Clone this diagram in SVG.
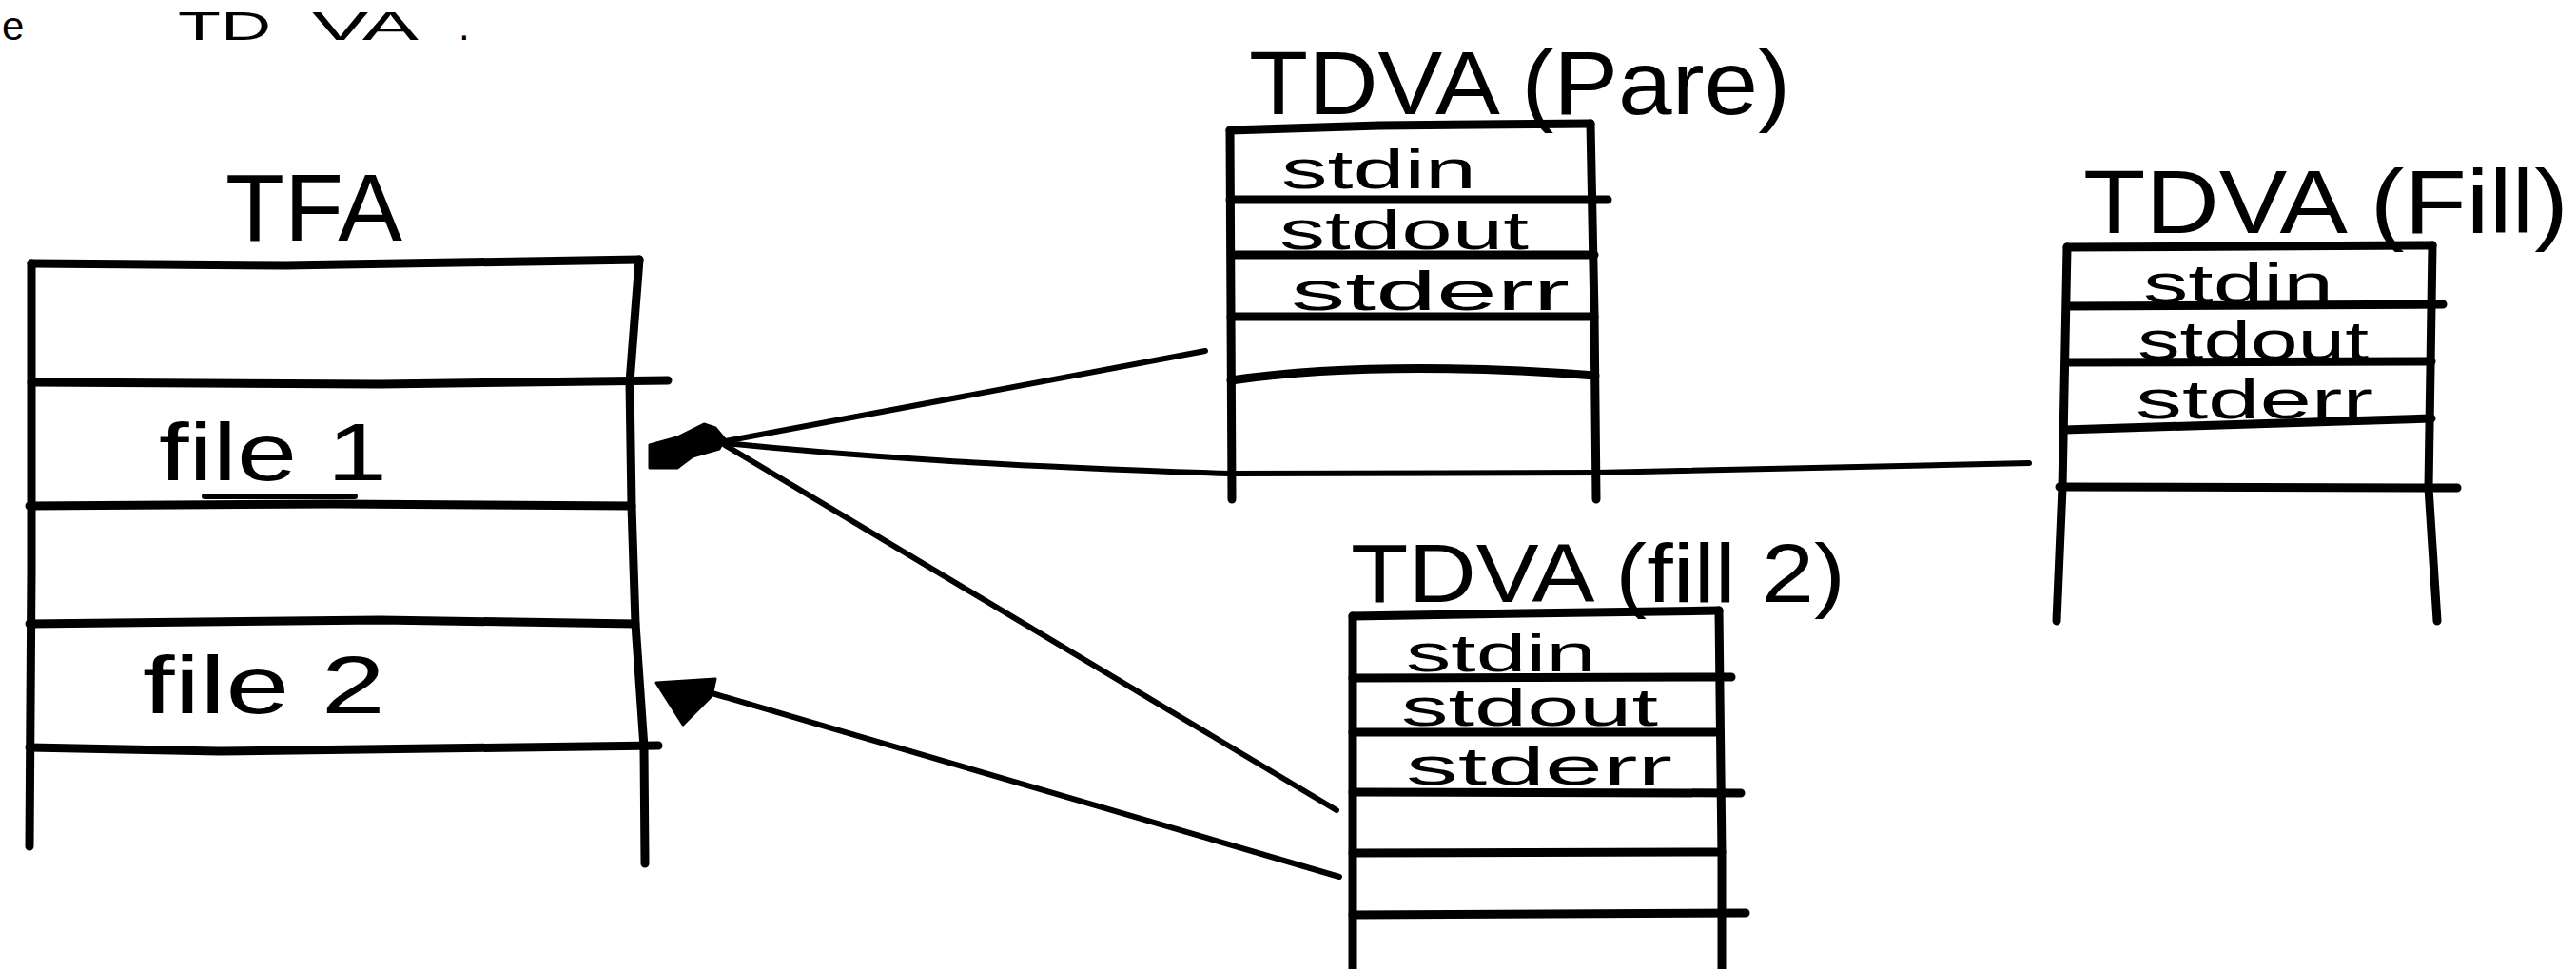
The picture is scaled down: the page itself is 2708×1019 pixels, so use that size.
<svg xmlns="http://www.w3.org/2000/svg" width="2708" height="1019" viewBox="0 0 2708 1019">
<style>
.ln{fill:none;stroke:#000;stroke-width:9;stroke-linecap:round;stroke-linejoin:round}
.cn{fill:none;stroke:#000;stroke-width:6;stroke-linecap:round;stroke-linejoin:round}
.ah{fill:#000;stroke:#000;stroke-width:3;stroke-linejoin:round}
.t{font-family:"Liberation Sans",Arial,sans-serif;fill:#000}
.ti{font-size:95px}
.sd{font-size:58px}
.hd{font-size:42px}
</style>
<rect width="2708" height="1019" fill="#fff"/>
<g id="header">
<text class="t hd" x="2" y="42">e</text>
<text class="t hd" x="187" y="42" textLength="98" lengthAdjust="spacingAndGlyphs">TD</text>
<text class="t hd" x="328" y="42" textLength="112" lengthAdjust="spacingAndGlyphs">VA</text>
<text class="t hd" x="482" y="42">.</text>
</g>
<g id="tfa">
<text class="t" x="237" y="253" font-size="100" textLength="186" lengthAdjust="spacingAndGlyphs">TFA</text>
<path class="ln" d="M33,277 L300,279 L672,273"/>
<path class="ln" d="M33,277 L33,600 L31,890"/>
<path class="ln" d="M672,273 L662,402 L664,532 L668,656 L677,786 L678,908"/>
<path class="ln" d="M33,402 L400,404 L702,400"/>
<path class="ln" d="M31,532 L350,530 L664,532"/>
<path class="ln" d="M31,656 L400,652 L668,656"/>
<path class="ln" d="M31,786 L230,790 L692,784"/>
<text class="t" x="167" y="505" font-size="85" textLength="240" lengthAdjust="spacingAndGlyphs">file 1</text>
<path class="ln" d="M215,522 L373,522" style="stroke-width:6"/>
<text class="t" x="150" y="750" font-size="85" textLength="255" lengthAdjust="spacingAndGlyphs">file 2</text>
</g>
<g id="tdva-pare">
<text class="t ti" x="1313" y="120" textLength="569" lengthAdjust="spacingAndGlyphs">TDVA (Pare)</text>
<path class="ln" d="M1293,137 L1450,132 L1672,130"/>
<path class="ln" d="M1293,137 L1295,525"/>
<path class="ln" d="M1672,130 L1676,330 L1678,525"/>
<path class="ln" d="M1293,210 L1690,210"/>
<path class="ln" d="M1294,268 L1676,268"/>
<path class="ln" d="M1294,333 L1676,333"/>
<path class="ln" d="M1294,400 Q1450,378 1677,395"/>
<text class="t sd" x="1347" y="198" textLength="205" lengthAdjust="spacingAndGlyphs">stdin</text>
<text class="t sd" x="1345" y="262" textLength="262" lengthAdjust="spacingAndGlyphs">stdout</text>
<text class="t sd" x="1357" y="326" textLength="293" lengthAdjust="spacingAndGlyphs">stderr</text>
</g>
<g id="tdva-fill">
<text class="t ti" x="2190" y="245" textLength="510" lengthAdjust="spacingAndGlyphs">TDVA (Fill)</text>
<path class="ln" d="M2173,260 L2557,258"/>
<path class="ln" d="M2173,260 L2168,513 L2162,653"/>
<path class="ln" d="M2557,258 L2553,513 L2562,653"/>
<path class="ln" d="M2173,322 L2568,320"/>
<path class="ln" d="M2172,381 L2556,380"/>
<path class="ln" d="M2170,452 L2556,440"/>
<path class="ln" d="M2165,512 L2583,513"/>
<text class="t sd" x="2253" y="318" textLength="200" lengthAdjust="spacingAndGlyphs">stdin</text>
<text class="t sd" x="2247" y="378" textLength="243" lengthAdjust="spacingAndGlyphs">stdout</text>
<text class="t sd" x="2245" y="440" textLength="250" lengthAdjust="spacingAndGlyphs">stderr</text>
</g>
<g id="tdva-fill2">
<text class="t" x="1420" y="633" font-size="88" textLength="520" lengthAdjust="spacingAndGlyphs">TDVA (fill 2)</text>
<path class="ln" d="M1422,648 L1600,645 L1807,642"/>
<path class="ln" d="M1422,648 L1422,1019"/>
<path class="ln" d="M1807,642 L1810,900 L1810,1019"/>
<path class="ln" d="M1422,713 L1820,712"/>
<path class="ln" d="M1422,770 L1808,770"/>
<path class="ln" d="M1422,833 L1830,834"/>
<path class="ln" d="M1422,897 L1810,896"/>
<path class="ln" d="M1422,962 L1835,960"/>
<text class="t" x="1478" y="706" font-size="55" textLength="200" lengthAdjust="spacingAndGlyphs">stdin</text>
<text class="t" x="1473" y="763" font-size="55" textLength="270" lengthAdjust="spacingAndGlyphs">stdout</text>
<text class="t" x="1478" y="825" font-size="55" textLength="280" lengthAdjust="spacingAndGlyphs">stderr</text>
</g>
<g id="connectors">
<path class="cn" d="M1267,369 L762,464"/>
<path class="cn" d="M2133,487 L1678,497 L1293,498 C1050,490 900,480 762,466"/>
<path class="cn" d="M762,468 L1405,852"/>
<path class="cn" d="M745,728 L1408,922"/>
<polygon class="ah" points="683,468 712,460 740,446 752,450 762,462 756,472 728,480 712,492 683,492"/>
<polygon class="ah" points="690,718 752,714 748,732 718,762"/>
</g>
</svg>
